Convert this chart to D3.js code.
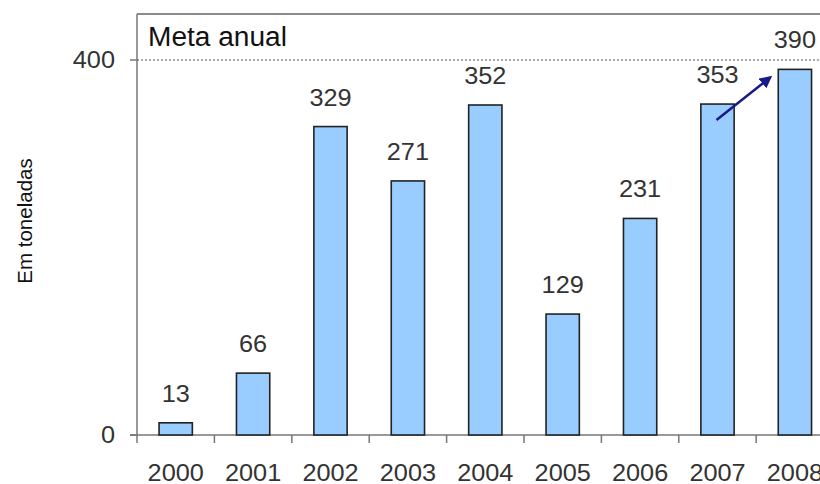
<!DOCTYPE html>
<html>
<head>
<meta charset="utf-8">
<script src="https://cdn.jsdelivr.net/npm/d3@7"></script>
<style>
  body { margin: 0; background: #fff; }
  svg text { font-family: "Liberation Sans", Arial, sans-serif; fill: #333; }
</style>
</head>
<body>
<div id="chart"></div>
<script>
// data
const years = ["2000", "2001", "2002", "2003", "2004", "2005", "2006", "2007", "2008"];
const tonnes = [13, 66, 329, 271, 352, 129, 231, 353, 390];
const yTicks = [0, 400];
const goal = 400;

const width = 820, height = 484;
const plotLeft = 137, plotTop = 14, plotBottom = 435;
const bandW = 77.4;
const stretch = 1.1; // the original numbers look slightly wide

const svg = d3.select("#chart").append("svg")
    .attr("width", width)
    .attr("height", height);

const x = d3.scaleBand()
    .domain(years)
    .range([plotLeft, plotLeft + bandW * years.length])
    .paddingInner(0.57)
    .paddingOuter(0.285);

const y = d3.scaleLinear()
    .domain([0, 400])
    .range([plotBottom, 60]);

// frame top
svg.append("line")
    .attr("x1", plotLeft).attr("x2", width)
    .attr("y1", plotTop).attr("y2", plotTop)
    .style("stroke", "#8a8a8a")
    .style("stroke-width", 2);

// y axis
svg.append("line")
    .attr("x1", plotLeft).attr("x2", plotLeft)
    .attr("y1", plotTop).attr("y2", plotBottom)
    .style("stroke", "#777")
    .style("stroke-width", 1.5);

svg.selectAll(".ytick")
    .data(yTicks)
    .enter().append("line")
    .attr("x1", plotLeft - 7).attr("x2", plotLeft)
    .attr("y1", d => y(d)).attr("y2", d => y(d))
    .style("stroke", "#777")
    .style("stroke-width", 1.5);

svg.selectAll(".ylab")
    .data(yTicks)
    .enter().append("text")
    .attr("transform", d => "translate(" + (plotLeft - 22) + "," + (y(d) + 8) + ") scale(" + stretch + ",1)")
    .attr("text-anchor", "end")
    .style("font-size", "23px")
    .text(d => d);

// meta anual dotted line
svg.append("line")
    .attr("x1", plotLeft).attr("x2", width)
    .attr("y1", y(goal)).attr("y2", y(goal))
    .style("stroke", "#555")
    .style("stroke-width", 1.2)
    .style("stroke-dasharray", "2,2");

svg.append("text")
    .attr("transform", "translate(148,46) scale(1.04,1)")
    .style("font-size", "27px")
    .style("fill", "#111")
    .text("Meta anual");

// x axis
svg.append("line")
    .attr("x1", plotLeft - 7).attr("x2", width)
    .attr("y1", plotBottom).attr("y2", plotBottom)
    .style("stroke", "#777")
    .style("stroke-width", 1.5);

svg.selectAll(".xtick")
    .data(years)
    .enter().append("line")
    .attr("x1", d => x(d) - x.step() * x.paddingInner() / 2)
    .attr("x2", d => x(d) - x.step() * x.paddingInner() / 2)
    .attr("y1", plotBottom).attr("y2", plotBottom + 8)
    .style("stroke", "#777")
    .style("stroke-width", 1.5);

svg.selectAll(".xlab")
    .data(years)
    .enter().append("text")
    .attr("transform", d => "translate(" + (x(d) + x.bandwidth() / 2) + ",481) scale(" + stretch + ",1)")
    .attr("text-anchor", "middle")
    .style("font-size", "23px")
    .text(d => d);

// bars
svg.selectAll(".bar")
    .data(tonnes)
    .enter().append("rect")
    .attr("class", "bar")
    .attr("x", (d, i) => x(years[i]))
    .attr("y", d => y(d))
    .attr("width", x.bandwidth())
    .attr("height", d => plotBottom - y(d))
    .style("fill", "#99ccff")
    .style("stroke", "#222")
    .style("stroke-width", 1.6);

// value labels
svg.selectAll(".val")
    .data(tonnes)
    .enter().append("text")
    .attr("transform", (d, i) => "translate(" + (x(years[i]) + x.bandwidth() / 2) + "," + (y(d) - 21) + ") scale(" + stretch + ",1)")
    .attr("text-anchor", "middle")
    .style("font-size", "23px")
    .text(d => d);

// y axis title
svg.append("text")
    .attr("transform", "translate(32,221) rotate(-90)")
    .attr("text-anchor", "middle")
    .style("font-size", "20.5px")
    .style("fill", "#111")
    .text("Em toneladas");

// arrow 2007 -> 2008
svg.append("defs").append("marker")
    .attr("id", "head")
    .attr("viewBox", "0 0 10 10")
    .attr("refX", 8).attr("refY", 5)
    .attr("markerWidth", 5).attr("markerHeight", 5)
    .attr("orient", "auto")
    .append("path")
    .attr("d", "M0,0L10,5L0,10z")
    .style("fill", "#1a1a8c");

svg.append("line")
    .attr("x1", x("2007") + x.bandwidth() / 2 - 1)
    .attr("y1", y(tonnes[7]) + 16)
    .attr("x2", x("2008") - 8)
    .attr("y2", y(tonnes[8]) + 8)
    .style("stroke", "#1a1a8c")
    .style("stroke-width", 2.5)
    .attr("marker-end", "url(#head)");
</script>
</body>
</html>
